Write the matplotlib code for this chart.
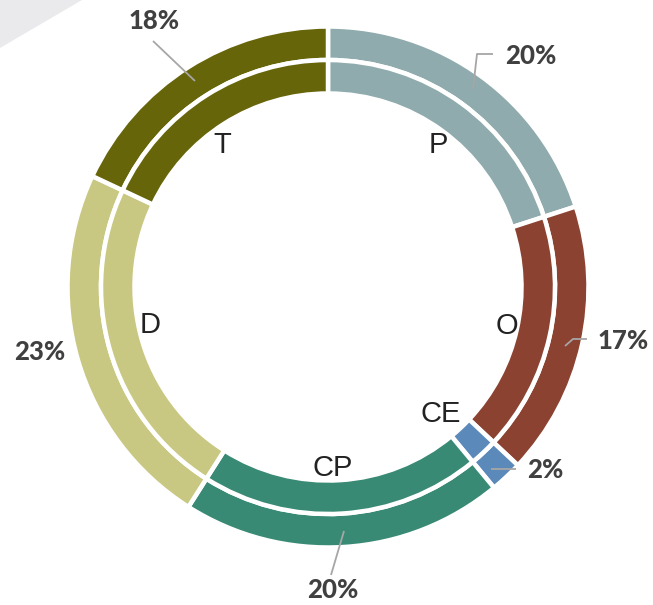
import matplotlib
matplotlib.use("Agg")
import matplotlib.pyplot as plt
from matplotlib.patches import Polygon

# data
categories = ["P", "O", "CE", "CP", "D", "T"]
shares = [20, 17, 2, 20, 23, 18]
pct_labels = ["20%", "17%", "2%", "20%", "23%", "18%"]
colors = ["#8fabad", "#8b4231", "#5b8aba", "#398a74", "#c8c882", "#676509"]

W, H = 653, 605


def py(y):
    # image rows -> axes coords (y up)
    return H - y


fig = plt.figure(figsize=(W / 100, H / 100), dpi=100)
ax = fig.add_axes([0, 0, 1, 1])

# light grey corner shape
ax.add_patch(Polygon([(0, py(0)), (82, py(0)), (0, py(48))], closed=True,
                     facecolor="#eaeaed", edgecolor="none", zorder=0))

cx, cy = 328, py(287)
gap_px = 4.5
lw = gap_px * 72 / 100
edge = dict(edgecolor="white", linewidth=lw)

# outer ring then inner ring, same shares
ax.pie(shares, colors=colors, startangle=90, counterclock=False,
       center=(cx, cy), radius=260.5, frame=True,
       wedgeprops=dict(width=33.5, **edge))
ax.pie(shares, colors=colors, startangle=90, counterclock=False,
       center=(cx, cy), radius=227, frame=True,
       wedgeprops=dict(width=33.5, **edge))

ax.set_xlim(0, W)
ax.set_ylim(0, H)
ax.set_aspect("equal")
ax.axis("off")

# category names inside the ring
name_pos = [(438, 145), (507, 326), (441, 414), (333, 468), (150, 325), (222, 145)]
for name, (x, y) in zip(categories, name_pos):
    ax.text(x, py(y), name, ha="center", va="center", fontsize=21,
            family="Liberation Sans", color="#222222")

# percentage labels with leader lines
pct_pos = [(531, 56), (623, 341), (545, 470), (333, 590), (40, 352), (154, 21)]
leaders = [
    [(473, 89), (477, 54), (493, 54)],
    [(565, 346), (573, 339), (587, 339)],
    [(491, 469), (516, 469)],
    [(344, 531), (331, 575)],
    None,
    [(195, 81), (153, 41)],
]
for lab, (x, y), ld in zip(pct_labels, pct_pos, leaders):
    ax.text(x, py(y), lab, ha="center", va="center", fontsize=18.5,
            family="Lato", fontweight=900, color="#404040")
    if ld:
        ax.plot([p[0] for p in ld], [py(p[1]) for p in ld],
                color="#a6a6a6", lw=1.3, solid_capstyle="butt", zorder=5)

fig.savefig("out.png", dpi=100)
